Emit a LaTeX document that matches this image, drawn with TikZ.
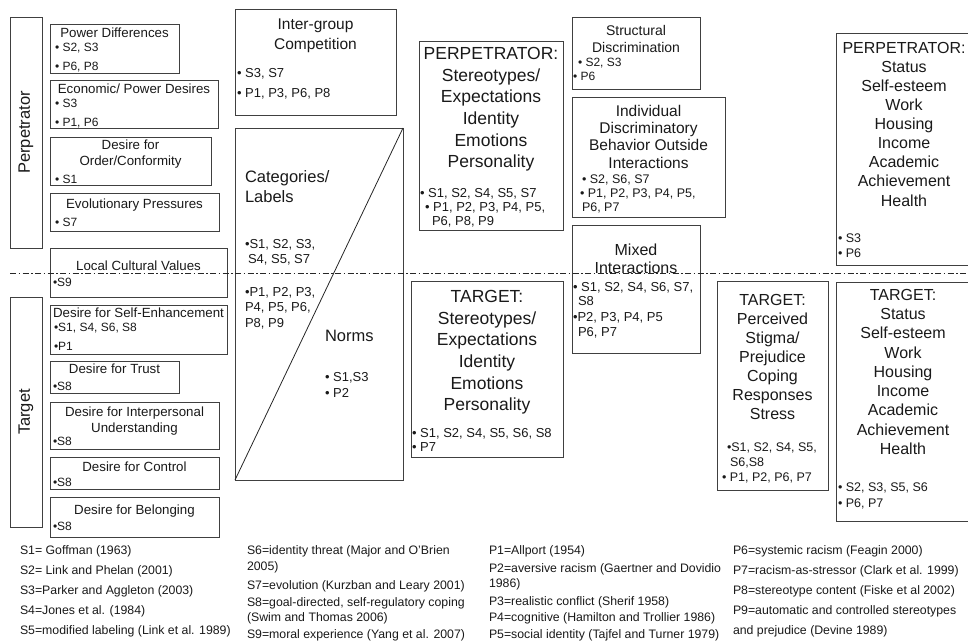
\documentclass[tikz,border=0pt]{standalone}
\usepackage{fontspec}
\setmainfont{Liberation Sans}
\newcommand\mybox[5]{\node[box, minimum width={(#4-#2)*1pt}, minimum height={(#5-#3)*1pt}] (#1) at (#2,#3) {};}
\tikzset{
  box/.style={draw=black!75, line width=0.9pt, inner sep=0pt, outer sep=0pt, anchor=north west},
  T/.style 2 args={inner sep=0pt, outer sep=0pt, font=\fontsize{#1pt}{#2pt}\selectfont, yshift={0.37*#1pt}, text=black!90},
  side/.style={rotate=90, inner sep=0pt, font=\fontsize{16.5pt}{19pt}\selectfont, text=black!90},
  dashdot/.style={draw=black!85, line width=0.7pt, dash pattern=on 6pt off 2.5pt on 1.5pt off 2.5pt},
  diag/.style={draw=black!85, line width=0.8pt}
}
\begin{document}
\begin{tikzpicture}[x=1pt,y=-1pt]
\useasboundingbox (0,0) rectangle (968,642);
\clip (0,0) rectangle (968,642);

% side labels
\mybox{perpL}{10}{17}{42}{248}
\mybox{targL}{10}{297}{42}{527}
\node[side] (perpLt) at (perpL.center) {Perpetrator};
\node[side] (targLt) at (targL.center) {Target};

% left column boxes
\mybox{pw}{50}{24}{179}{73}
\node[T={13.3}{16}, anchor=north] (pwT) at (114.5,33) {Power Differences};
\node[T={12}{19}, anchor=north west, align=left] (pwB) at (55,48) {• S2, S3\\• P6, P8};

\mybox{ec}{50}{80}{218}{128}
\node[T={13.3}{16}, anchor=north] (ecT) at (134,89) {Economic/ Power Desires};
\node[T={12}{19}, anchor=north west, align=left] (ecB) at (55,104) {• S3\\• P1, P6};

\mybox{or}{50}{137}{211}{185}
\node[T={13.3}{16}, anchor=north, align=center] (orT) at (130.5,145) {Desire for\\Order/Conformity};
\node[T={12}{19}, anchor=north west] (orB) at (55,180) {• S1};

\mybox{ev}{50}{193}{219}{231}
\node[T={13.3}{16}, anchor=north] (evT) at (134.5,204) {Evolutionary Pressures};
\node[T={12}{19}, anchor=north west] (evB) at (55,223) {• S7};

\mybox{lc}{50}{248}{227}{297}
\node[T={13.3}{16}, anchor=north] (lcT) at (138.5,266) {Local Cultural Values};
\node[T={12}{19}, anchor=north west] (lcB) at (53,283) {•S9};

\mybox{se}{50}{305}{227}{354}
\node[T={13.3}{16}, anchor=north] (seT) at (138.5,313) {Desire for Self-Enhancement};
\node[T={12}{19}, anchor=north west, align=left] (seB) at (54,328) {•S1, S4, S6, S8\\•P1};

\mybox{tr}{50}{361}{179}{393}
\node[T={13.3}{16}, anchor=north] (trT) at (114.5,369) {Desire for Trust};
\node[T={12}{19}, anchor=north west] (trB) at (53,387) {•S8};

\mybox{ip}{50}{402}{219}{449}
\node[T={13.3}{15.5}, anchor=north, align=center] (ipT) at (134.5,412) {Desire for Interpersonal\\Understanding};
\node[T={12}{19}, anchor=north west] (ipB) at (53,442) {•S8};

\mybox{co}{50}{457}{219}{489}
\node[T={13.3}{16}, anchor=north] (coT) at (134.5,467) {Desire for Control};
\node[T={12}{19}, anchor=north west] (coB) at (53,483) {•S8};

\mybox{be}{50}{497}{219}{537}
\node[T={13.3}{16}, anchor=north] (beT) at (134.5,510) {Desire for Belonging};
\node[T={12}{19}, anchor=north west] (beB) at (53,527) {•S8};

% inter-group
\mybox{ig}{235}{9}{396}{115}
\node[T={15.5}{20}, anchor=north, align=center] (igT) at (315.5,25) {Inter-group\\Competition};
\node[T={13}{20}, anchor=north west, align=left] (igB) at (237,73) {• S3, S7\\• P1, P3, P6, P8};

% categories / norms
\mybox{cat}{235}{128}{403}{480}
\draw[diag] (cat.south west) -- (cat.north east);
\node[T={16.5}{20}, anchor=north west, align=left] (catT) at (245,177) {Categories/\\Labels};
\node[T={13}{15.5}, anchor=north west, align=left] (catS) at (245,244) {•S1, S2, S3,\\\hspace*{3pt}S4, S5, S7};
\node[T={13}{15.5}, anchor=north west, align=left] (catP) at (245,292) {•P1, P2, P3,\\P4, P5, P6,\\P8, P9};
\node[T={16.5}{20}, anchor=north west] (nrT) at (325,336) {Norms};
\node[T={13}{16}, anchor=north west, align=left] (nrB) at (325,377) {• S1,S3\\• P2};

% perpetrator middle
\mybox{pm}{419}{41}{563}{230}
\node[T={17.5}{21.6}, anchor=north, align=center] (pmT) at (491,54) {PERPETRATOR:\\Stereotypes/\\Expectations\\Identity\\Emotions\\Personality};
\node[T={13}{14.5}, anchor=north west] (pmS) at (420,193) {• S1, S2, S4, S5, S7};
\node[T={13}{14.5}, anchor=north west, align=left] (pmP) at (425,207) {• P1, P2, P3, P4, P5,\\\hspace*{7pt}P6, P8, P9};

% target middle
\mybox{tm}{411}{281}{563}{457}
\node[T={17.5}{21.6}, anchor=north, align=center] (tmT) at (487,297) {TARGET:\\Stereotypes/\\Expectations\\Identity\\Emotions\\Personality};
\node[T={13}{14.5}, anchor=north west, align=left] (tmB) at (412,433) {• S1, S2, S4, S5, S6, S8\\• P7};

% structural
\mybox{st}{572}{17}{700}{89}
\node[T={14}{17}, anchor=north, align=center] (stT) at (636,31) {Structural\\Discrimination};
\node[T={12}{14}, anchor=north west] (stS) at (578,63) {• S2, S3};
\node[T={12}{14}, anchor=north west] (stP) at (573,77) {• P6};

% individual
\mybox{in}{572}{97}{725}{217}
\node[T={15.5}{17.2}, anchor=north, align=center] (inT) at (648.5,111) {Individual\\Discriminatory\\Behavior Outside\\Interactions};
\node[T={12.5}{14}, anchor=north west] (inS) at (582,179) {• S2, S6, S7};
\node[T={12.5}{14.5}, anchor=north west, align=left] (inP) at (580,193) {• P1, P2, P3, P4, P5,\\\hspace*{2pt}P6, P7};

% mixed
\mybox{mx}{572}{225}{700}{353}
\node[T={16}{18}, anchor=north, align=center] (mxT) at (636,250) {Mixed\\Interactions};
\node[T={13}{14}, anchor=north west, align=left] (mxS) at (573,287) {• S1, S2, S4, S6, S7,\\\hspace*{5pt}S8};
\node[T={13}{15}, anchor=north west, align=left] (mxP) at (573,317) {•P2, P3, P4, P5\\\hspace*{5pt}P6, P7};

% perceived
\mybox{pc}{717}{281}{828}{490}
\node[T={16}{19}, anchor=north, align=center] (pcT) at (772.5,300) {TARGET:\\Perceived\\Stigma/\\Prejudice\\Coping\\Responses\\Stress};
\node[T={12.5}{15}, anchor=north west, align=left] (pcS) at (727,447) {•S1, S2, S4, S5,\\\hspace*{3pt}S6,S8};
\node[T={12.5}{15}, anchor=north west] (pcP) at (722,477) {• P1, P2, P6, P7};

% right perpetrator
\mybox{pr}{836}{33}{985}{265}
\node[T={16}{19.1}, anchor=north, align=center] (prT) at (904,48) {PERPETRATOR:\\Status\\Self-esteem\\Work\\Housing\\Income\\Academic\\Achievement\\Health};
\node[T={12.5}{15}, anchor=north west, align=left] (prB) at (838,238) {• S3\\• P6};

% right target
\mybox{tR}{836}{282}{985}{521}
\node[T={16}{19.25}, anchor=north, align=center] (tRT) at (903,295) {TARGET:\\Status\\Self-esteem\\Work\\Housing\\Income\\Academic\\Achievement\\Health};
\node[T={12.5}{16}, anchor=north west, align=left] (tRB) at (838,487) {• S2, S3, S5, S6\\• P6, P7};

% dash-dot divider
\coordinate (dlL) at (10,273);
\coordinate (dlR) at (968,273);
\draw[dashdot] (dlL) -- (dlR);

% legend
\node[T={12.3}{15}, anchor=north west] (lg1) at (20,550) {S1= Goffman (1963)};
\node[T={12.3}{15}, anchor=north west] (lg2) at (20,570) {S2= Link and Phelan (2001)};
\node[T={12.3}{15}, anchor=north west] (lg3) at (20,590) {S3=Parker and Aggleton (2003)};
\node[T={12.3}{15}, anchor=north west] (lg4) at (20,610) {S4=Jones et al. (1984)};
\node[T={12.3}{15}, anchor=north west] (lg5) at (20,630) {S5=modified labeling (Link et al. 1989)};

\node[T={12.3}{15}, anchor=north west] (lg6) at (247,550) {S6=identity threat (Major and O'Brien};
\node[T={12.3}{15}, anchor=north west] (lg7) at (247,566) {2005)};
\node[T={12.3}{15}, anchor=north west] (lg8) at (247,585) {S7=evolution (Kurzban and Leary 2001)};
\node[T={12.3}{15}, anchor=north west] (lg9) at (247,602) {S8=goal-directed, self-regulatory coping};
\node[T={12.3}{15}, anchor=north west] (lg10) at (247,617) {(Swim and Thomas 2006)};
\node[T={12.3}{15}, anchor=north west] (lg11) at (247,634) {S9=moral experience (Yang et al. 2007)};

\node[T={12.3}{15}, anchor=north west] (lg12) at (489,550) {P1=Allport (1954)};
\node[T={12.3}{15}, anchor=north west] (lg13) at (489,568) {P2=aversive racism (Gaertner and Dovidio};
\node[T={12.3}{15}, anchor=north west] (lg14) at (489,583) {1986)};
\node[T={12.3}{15}, anchor=north west] (lg15) at (489,601) {P3=realistic conflict (Sherif 1958)};
\node[T={12.3}{15}, anchor=north west] (lg16) at (489,617) {P4=cognitive (Hamilton and Trollier 1986)};
\node[T={12.3}{15}, anchor=north west] (lg17) at (489,634) {P5=social identity (Tajfel and Turner 1979)};

\node[T={12.3}{15}, anchor=north west] (lg18) at (733,550) {P6=systemic racism (Feagin 2000)};
\node[T={12.3}{15}, anchor=north west] (lg19) at (733,570) {P7=racism-as-stressor (Clark et al. 1999)};
\node[T={12.3}{15}, anchor=north west] (lg20) at (733,590) {P8=stereotype content (Fiske et al 2002)};
\node[T={12.3}{15}, anchor=north west] (lg21) at (733,610) {P9=automatic and controlled stereotypes};
\node[T={12.3}{15}, anchor=north west] (lg22) at (733,630) {and prejudice (Devine 1989)};
\end{tikzpicture}
\end{document}
